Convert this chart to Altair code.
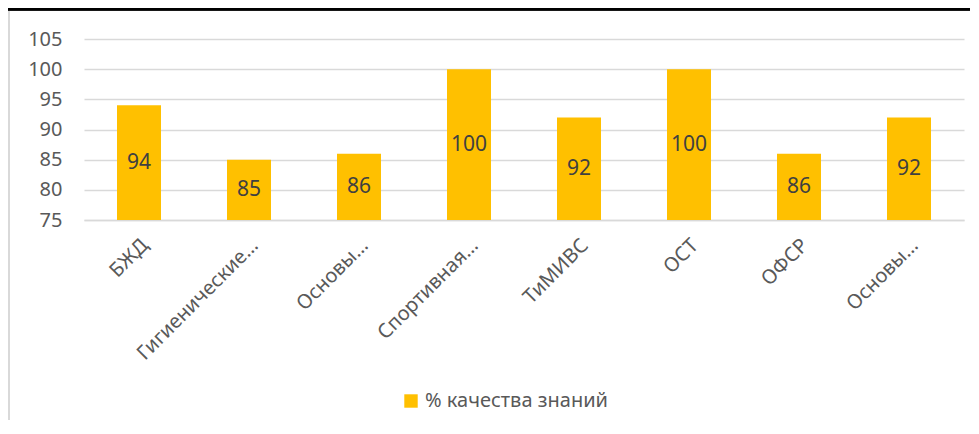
import json
import altair as alt
import pandas as pd

categories = ["БЖД", "Гигиенические…", "Основы…", "Спортивная…", "ТиМИВС", "ОСТ", "ОФСР", "Основы…"]
values = [94, 85, 86, 100, 92, 100, 86, 92]
series_name = "% качества знаний"
y_ticks = [75, 80, 85, 90, 95, 100, 105]

df = pd.DataFrame({
    "idx": list(range(len(categories))),
    "value": values,
    "series": [series_name] * len(values),
})

FONT = "Noto Sans"
label_expr = json.dumps(categories, ensure_ascii=False) + "[datum.value]"

x_axis = alt.Axis(
    title=None, labelExpr=label_expr, labelAngle=-45, labelAlign="right",
    labelBaseline="middle", labelPadding=22, labelOffset=6, ticks=False, domain=True,
    domainColor="#d9d9d9", domainWidth=1.5, labelFont=FONT, labelFontSize=20,
    labelColor="#595959", grid=False, labelLimit=0, labelOverlap=False,
)
y_axis = alt.Axis(
    title=None, values=y_ticks, ticks=False, domain=False, labelPadding=22,
    labelFont=FONT, labelFontSize=20, labelColor="#595959",
    gridColor="#d9d9d9", gridWidth=1.3, labelOverlap=False,
)
x_scale = alt.Scale(paddingInner=0.6, paddingOuter=0.3)
y_scale = alt.Scale(domain=[75, 105], zero=False, nice=False)

base = alt.Chart(df)

bars = base.transform_calculate(base_v="75").mark_bar(color="#FFC000").encode(
    x=alt.X("idx:O", scale=x_scale, axis=x_axis),
    y=alt.Y("value:Q", scale=y_scale, axis=y_axis),
    y2="base_v:Q",
    color=alt.Color(
        "series:N", scale=alt.Scale(range=["#FFC000"]),
        legend=alt.Legend(
            title=None, orient="none", legendX=317, legendY=352, direction="horizontal",
            symbolType="square", symbolSize=180, symbolStrokeWidth=0, labelLimit=0,
            labelFont=FONT, labelFontSize=20, labelColor="#595959",
        ),
    ),
)

labels = base.transform_calculate(mid="(datum.value + 75) / 2").mark_text(
    font=FONT, fontSize=21, color="#404040", baseline="middle", align="center"
).encode(
    x=alt.X("idx:O", scale=x_scale, axis=x_axis),
    y=alt.Y("mid:Q", scale=y_scale, axis=y_axis),
    text="value:Q",
)

top_line = alt.Chart(df).mark_rule(color="#000000", strokeWidth=2.5).encode(
    x=alt.value(-84), x2=alt.value(900), y=alt.value(-30)
)
left_frame = alt.Chart(df).mark_rule(color="#d9d9d9", strokeWidth=2).encode(
    x=alt.value(-75), y=alt.value(-28), y2=alt.value(400)
)

chart = alt.layer(bars, labels, top_line, left_frame).properties(
    width=880, height=181,
    padding={"left": 76, "top": 31, "right": 6, "bottom": 200},
    autosize=alt.AutoSizeParams(type="none"),
    background="white",
).configure_view(stroke=None)

chart.save("out.html", embed_options={"renderer": "svg", "actions": False})
